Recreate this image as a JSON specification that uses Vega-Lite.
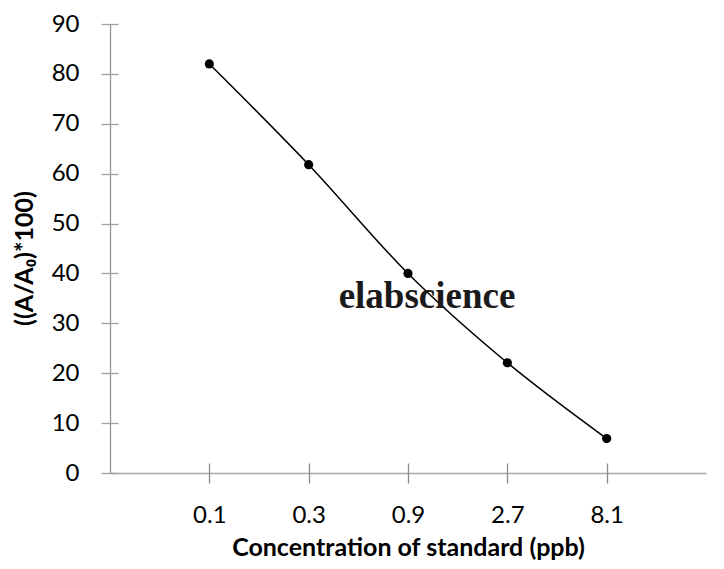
{
  "$schema": "https://vega.github.io/schema/vega-lite/v6.json",
  "autosize": {"type": "none"},
  "padding": {"left": 110, "top": 24, "right": 18, "bottom": 96},
  "width": 596,
  "height": 449,
  "background": "white",
  "config": {
    "view": {"stroke": null},
    "axis": {"grid": false, "labelFont": "Lato", "titleFont": "Lato", "labelColor": "#000000", "titleColor": "#000000"}
  },
  "data": {
    "values": [
      {"conc": "0.1", "value": 82.0},
      {"conc": "0.3", "value": 61.8},
      {"conc": "0.9", "value": 40.0},
      {"conc": "2.7", "value": 22.1},
      {"conc": "8.1", "value": 6.9}
    ]
  },
  "resolve": {"scale": {"x": "independent", "y": "independent"}, "axis": {"x": "independent", "y": "independent"}},
  "layer": [
    {
      "mark": {"type": "line", "color": "#000000", "strokeWidth": 1.5, "interpolate": "monotone"},
      "encoding": {
        "x": {
          "field": "conc", "type": "ordinal", "sort": null,
          "scale": {"type": "point", "domain": ["0.1", "0.3", "0.9", "2.7", "8.1"], "padding": 1},
          "axis": {
            "orient": "bottom", "domain": true, "domainColor": "#a8a8a8", "domainWidth": 1.6,
            "ticks": false, "labelPadding": 30, "labelFontSize": 24, "labelAngle": 0,
            "title": "Concentration of standard (ppb)", "titleFontSize": 25, "titleFontWeight": "bold",
            "titleY": 62, "titleBaseline": "top"
          }
        },
        "y": {
          "field": "value", "type": "quantitative",
          "scale": {"domain": [0, 90], "nice": false, "zero": true},
          "axis": {
            "orient": "left", "domain": true, "domainColor": "#959595", "domainWidth": 1.3,
            "ticks": false, "values": [0, 10, 20, 30, 40, 50, 60, 70, 80, 90],
            "labelPadding": 31, "labelFontSize": 24,
            "title": "((A/A₀)*100)", "titleFontSize": 25, "titleFontWeight": "bold",
            "titleX": -73, "titleY": 234, "titleBaseline": "bottom", "titleAngle": -90
          }
        }
      }
    },
    {
      "mark": {"type": "point", "filled": true, "color": "#000000", "opacity": 1, "size": 85},
      "encoding": {
        "x": {
          "field": "conc", "type": "ordinal", "sort": null,
          "scale": {"type": "point", "domain": ["0.1", "0.3", "0.9", "2.7", "8.1"], "padding": 1},
          "axis": {
            "orient": "bottom", "domain": false, "labels": false, "title": null,
            "ticks": true, "tickSize": 20, "offset": -10, "tickColor": "#8a8a8a", "tickWidth": 1.3
          }
        },
        "y": {
          "field": "value", "type": "quantitative",
          "scale": {"domain": [0, 90], "nice": false, "zero": true},
          "axis": {
            "orient": "left", "domain": false, "labels": false, "title": null,
            "values": [0, 10, 20, 30, 40, 50, 60, 70, 80, 90],
            "ticks": true, "tickSize": 17, "offset": -8, "tickColor": "#a0a0a0", "tickWidth": 1.3
          }
        }
      }
    },
    {
      "data": {"values": [{"label": "elabscience"}]},
      "mark": {"type": "text", "font": "Liberation Serif", "fontWeight": "bold", "fontSize": 37, "align": "center", "baseline": "alphabetic", "dx": 19, "color": "#1a1a1a"},
      "encoding": {
        "text": {"field": "label"},
        "x": {
          "datum": "0.9", "type": "ordinal",
          "scale": {"type": "point", "domain": ["0.1", "0.3", "0.9", "2.7", "8.1"], "padding": 1},
          "axis": null
        },
        "y": {
          "datum": 33, "type": "quantitative",
          "scale": {"domain": [0, 90], "nice": false, "zero": true},
          "axis": null
        }
      }
    }
  ]
}
